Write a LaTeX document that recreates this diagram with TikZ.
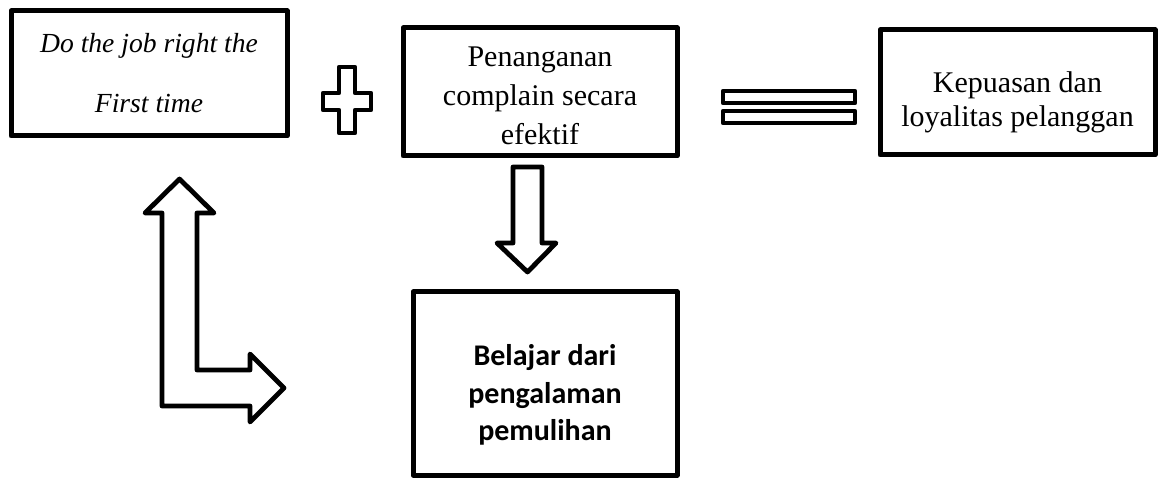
\documentclass[tikz,border=0pt]{standalone}
\usepackage{fontspec}
\setmainfont{Liberation Serif}
\newfontfamily\carlito{Carlito}
\tikzset{box/.style={draw, line width=5pt, line join=round, inner sep=0pt, align=center},
  blockshape/.style={draw, line width=4.8pt, line join=round}}

\begin{document}
\begin{tikzpicture}[x=1pt, y=-1pt]
            \useasboundingbox (0,0) rectangle (1160,481);

            \node[box, minimum width=276pt, minimum height=125pt, font=\fontsize{27.6}{60}\selectfont\itshape] (job) at (149,73.5) {Do the job right the\\First time};
            \node[box, minimum width=274pt, minimum height=128pt] (complain) at (540,92) {};
            \node[font=\fontsize{30}{39}\selectfont, align=center, yshift=-4pt] (complaintext) at (complain) {Penanganan\\complain secara\\efektif};
            \node[box, minimum width=275pt, minimum height=125pt] (puas) at (1017.5,92.5) {};
            \node[font=\fontsize{30}{33.5}\selectfont, align=center, yshift=-10pt] (puastext) at (puas) {Kepuasan dan\\loyalitas pelanggan};
            \node[box, minimum width=264pt, minimum height=183pt] (belajar) at (545,383.5) {};
            \node[font=\fontsize{30}{37.5}\selectfont\carlito\bfseries, align=center, yshift=-11.5pt] (belajartext) at (belajar) {Belajar dari\\pengalaman\\pemulihan};

            \draw[blockshape] (339,67) -- (355,67) -- (355,93) -- (371,93) -- (371,110) -- (355,110) -- (355,133) -- (339,133) -- (339,110) -- (323,110) -- (323,93) -- (339,93) -- cycle;
            \draw[blockshape] (723,91) rectangle (855,103);
            \draw[blockshape] (723,111) rectangle (855,123);
            \draw[blockshape] (513,167) -- (542,167) -- (542,243) -- (556,243) -- (527.5,272) -- (497,243) -- (513,243) -- cycle;
            \draw[blockshape] (179.5,179) -- (214,213) -- (197,213) -- (197,370) -- (250,370) -- (250,354) -- (284,388) -- (250,422) -- (250,406) -- (162,406) -- (162,213) -- (145,213) -- cycle;
        \end{tikzpicture}
\end{document}
